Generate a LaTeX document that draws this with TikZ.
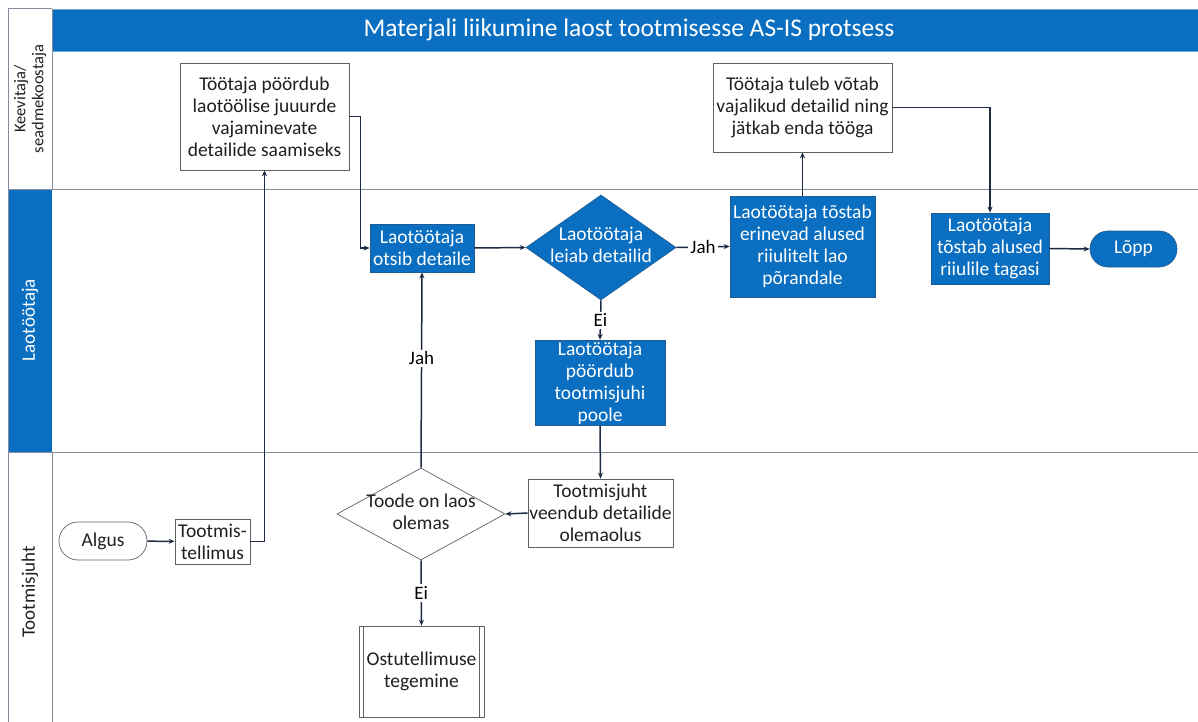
\documentclass[tikz,border=0pt]{standalone}
\usepackage{fontspec}
\setmainfont{Carlito}
\usetikzlibrary{arrows.meta,shapes.geometric}

\definecolor{procblue}{HTML}{0A6FC0}
\definecolor{procedge}{HTML}{1F5C96}
\definecolor{laneline}{HTML}{858A9C}
\definecolor{flowline}{HTML}{1E2B45}
\definecolor{inktext}{HTML}{202020}

\newcommand{\boxfont}{\fontsize{19.5}{22}\selectfont}
\newcommand{\lblfont}{\fontsize{19}{21}\selectfont}

\tikzset{
  whitebox/.style={draw=gray!75!black, line width=0.7pt, fill=white, text=inktext,
    font=\boxfont, align=center, inner sep=1.5pt},
  bluebox/.style={draw=procedge, line width=0.7pt, fill=procblue, text=white,
    font=\boxfont, align=center, inner sep=1.5pt},
  bluediamond/.style={diamond, draw=procedge, line width=0.7pt, fill=procblue, text=white,
    font=\boxfont, inner sep=0pt},
  whitediamond/.style={diamond, draw=gray!75!black, line width=0.7pt, fill=white, text=inktext,
    font=\boxfont, inner sep=0pt},
  flow/.style={draw=flowline, line width=1.5pt, -{Stealth[length=6pt,width=5pt]}},
  flowlabel/.style={fill=white, text=black, font=\lblfont, inner sep=2pt},
  lanerule/.style={draw=laneline, line width=1pt},
  lanetext/.style={font=\fontsize{19}{20}\selectfont, rotate=90, align=center}
}

\begin{document}
\begin{tikzpicture}[x=1pt, y=-1pt]
  \useasboundingbox (0,0) rectangle (1198,722);
  \fill[white] (0,0) rectangle (1198,722);

  % title bar
  \fill[procblue] (52,9) rectangle (1198,51);
  \draw[draw=procblue!60!white, line width=0.6pt] (52,9) -- (1198,9) (52,51) -- (1198,51);
  \node[text=white, font=\fontsize{25.5}{28}\selectfont] (title) at (629,30)
    {Materjali liikumine laost tootmisesse AS-IS protsess};

  % swimlane frame
  \fill[procblue] (8,189) rectangle (52,452);
  \draw[lanerule] (8,9) -- (52,9);
  \draw[lanerule] (8,9) -- (8,722);
  \draw[lanerule] (52,9) -- (52,189);
  \draw[lanerule] (52,452) -- (52,722);
  \draw[lanerule] (8,189) -- (1198,189);
  \draw[lanerule] (8,452) -- (1198,452);

  % lane titles
  \node[lanetext, text=inktext, font=\fontsize{16.5}{18}\selectfont] (lane1) at (30,99)
    {Keevitaja/\\seadmekoostaja};
  \node[lanetext, text=white] (lane2) at (30,320) {Laotöötaja};
  \node[lanetext, text=inktext] (lane3) at (30,592) {Tootmisjuht};

  % Keevitaja / seadmekoostaja
  \node[whitebox, minimum width=169pt, minimum height=107pt] (ask) at (264.5,116.5)
    {Töötaja pöördub\\laotöölise juuurde\\vajaminevate\\detailide saamiseks};
  \node[whitebox, minimum width=179pt, minimum height=89pt] (take) at (802.5,107.5)
    {Töötaja tuleb võtab\\vajalikud detailid ning\\jätkab enda tööga};

  % Laotöötaja
  \node[bluebox, minimum width=104pt, minimum height=48pt] (search) at (422,248)
    {Laotöötaja\\otsib detaile};
  \node[bluediamond, minimum width=150pt, minimum height=105pt] (found) at (601,247.5)
    {\makebox[0pt]{\begin{tabular}{@{}c@{}}Laotöötaja\\leiab detailid\end{tabular}}};
  \node[bluebox, minimum width=145pt, minimum height=101pt] (lift) at (802.5,246.5)
    {Laotöötaja tõstab\\erinevad alused\\riiulitelt lao\\põrandale};
  \node[bluebox, minimum width=118pt, minimum height=71pt] (back) at (990,248.5)
    {Laotöötaja\\tõstab alused\\riiulile tagasi};
  \node[bluebox, rounded corners=18pt, minimum width=87pt, minimum height=36pt] (finish) at (1133.5,249)
    {Lõpp};
  \node[bluebox, minimum width=130pt, minimum height=82pt] (askboss) at (600,383)
    {Laotöötaja\\pöördub\\tootmisjuhi\\poole};

  % Tootmisjuht
  \node[whitebox, rounded corners=19pt, minimum width=88pt, minimum height=38pt] (start) at (103,541)
    {Algus};
  \node[whitebox, minimum width=75pt, minimum height=45pt] (order) at (212.5,541.5)
    {Tootmis-\\tellimus};
  \node[whitebox, minimum width=145pt, minimum height=68pt] (check) at (600.5,513)
    {Tootmisjuht\\veendub detailide\\olemaolus};
  \node[whitediamond, minimum width=168pt, minimum height=92pt] (stock) at (421,514)
    {\makebox[0pt]{\begin{tabular}{@{}c@{}}Toode on laos\\olemas\end{tabular}}};
  \node[whitebox, minimum width=125pt, minimum height=91pt] (purchase) at (421.5,671.5)
    {Ostutellimuse\\tegemine};
  \draw[draw=gray!75!black, line width=0.7pt]
    ([xshift=5pt]purchase.north west) -- ([xshift=5pt]purchase.south west)
    ([xshift=-5pt]purchase.north east) -- ([xshift=-5pt]purchase.south east);

  % connectors
  \draw[flow] (start) -- (order);
  \draw[flow] (order.east) -| (ask.south);
  \draw[flow] (ask.east) -- ++(11,0) |- (search.west);
  \draw[flow] (search.east) -- (found.west);
  \draw[flow] (found.east) -- node[flowlabel] {Jah} (lift.west);
  \draw[flow] (lift.north) -- (take.south);
  \draw[flow] (take.east) -| (back.north);
  \draw[flow] (back.east) -- (finish.west);
  \draw[flow] (found.south) -- node[flowlabel] {Ei} (askboss.north);
  \draw[flow] (askboss.south) -- (check.north);
  \draw[flow] (check.west) -- (stock.east);
  \draw[flow] (stock.north) -- node[flowlabel, pos=0.56] {Jah} (search.south);
  \draw[flow] (stock.south) -- node[flowlabel] {Ei} (purchase.north);
\end{tikzpicture}
\end{document}
